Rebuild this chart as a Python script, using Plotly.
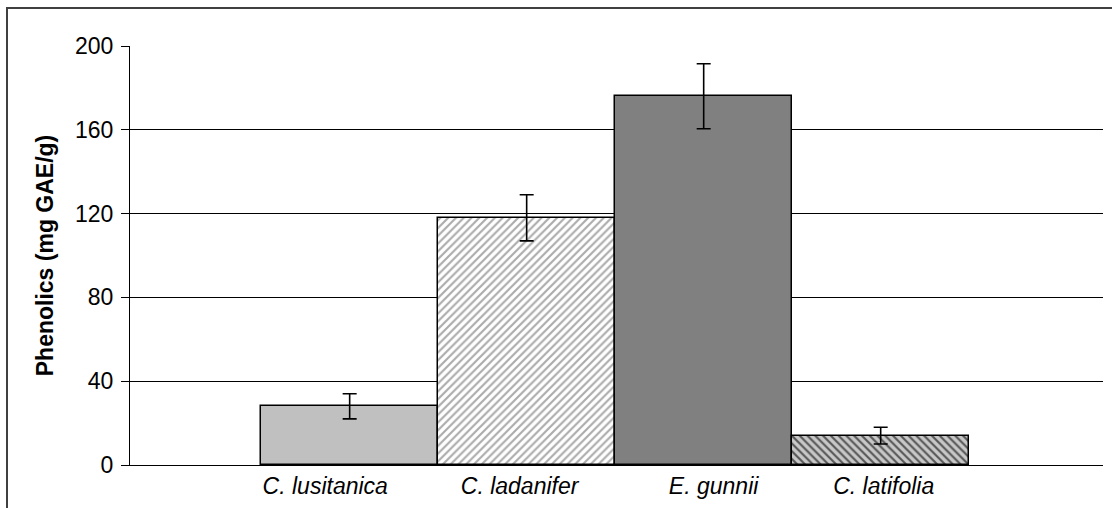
import plotly.graph_objects as go

species = ["C. lusitanica", "C. ladanifer", "E. gunnii", "C. latifolia"]
phenolics = [28, 118, 176, 14]
errors = [6, 11, 15.5, 4]
y_ticks = [0, 40, 80, 120, 160, 200]

# per-bar fill styles (fill colour, hatch shape, hatch colour, hatch background)
fills = ["#C0C0C0", "#FFFFFF", "#808080", "#C4C4C4"]
hatch = ["", "/", "", "\\"]
hatch_fg = ["#C0C0C0", "#ABABAB", "#808080", "#555555"]
hatch_bg = ["#C0C0C0", "#FFFFFF", "#808080", "#C8C8C8"]
# category labels in the original are not exactly centred under the bars
label_shift = [-0.138, -0.040, 0.056, 0.017]

W, H = 1112, 508
ml, mr, mt, mb = 130, 9, 46, 36
pw, ph = W - ml - mr, H - mt - mb

positions = list(range(len(species)))

fig = go.Figure()
for i, name in enumerate(species):
    marker = dict(color=fills[i], line=dict(color="black", width=1.5))
    if hatch[i]:
        marker["pattern"] = dict(shape=hatch[i], fgcolor=hatch_fg[i],
                                 bgcolor=hatch_bg[i], size=5.5, solidity=0.38,
                                 fillmode="replace")
    fig.add_trace(go.Bar(
        x=[positions[i]],
        y=[phenolics[i]],
        name=name,
        error_y=dict(type="data", array=[errors[i]], visible=True,
                     color="black", thickness=1.6, width=7),
        marker=marker,
        width=1,
        showlegend=False,
    ))

font_family = "Liberation Sans, Arial, sans-serif"

fig.update_layout(
    width=W, height=H,
    margin=dict(l=ml, r=mr, t=mt, b=mb, pad=0),
    paper_bgcolor="white",
    plot_bgcolor="white",
    barmode="overlay",
    bargap=0,
    font=dict(family=font_family, size=23, color="black"),
    xaxis=dict(
        type="linear",
        range=[-1.241, 4.256],
        tickmode="array",
        tickvals=[p + s for p, s in zip(positions, label_shift)],
        ticktext=species,
        showline=True, linecolor="black", linewidth=1,
        ticks="", showgrid=False, zeroline=False,
        tickfont=dict(family=font_family, size=23, style="italic"),
        fixedrange=True,
    ),
    yaxis=dict(
        range=[0, 200],
        tickvals=y_ticks,
        ticks="outside", ticklen=8, tickcolor="black", tickwidth=1,
        showline=True, linecolor="black", linewidth=1,
        showgrid=True, gridcolor="black", gridwidth=1,
        zeroline=False,
        tickfont=dict(family=font_family, size=23),
        ticklabelstandoff=3,
        title=dict(text="<b>Phenolics (mg GAE/g)</b>",
                   font=dict(family=font_family, size=23), standoff=14),
        fixedrange=True,
    ),
)

# outer chart-area border
x0 = (7 - ml) / pw
y1 = (H - mb - 7.3) / ph
fig.add_shape(type="rect", xref="paper", yref="paper",
              x0=x0, x1=1.05, y0=-0.3, y1=y1,
              line=dict(color="#404040", width=2), layer="below")

fig.write_html(
    "out.html",
    config={"displayModeBar": False},
    post_script="document.body.style.margin='0';document.documentElement.style.overflow='hidden';",
)
